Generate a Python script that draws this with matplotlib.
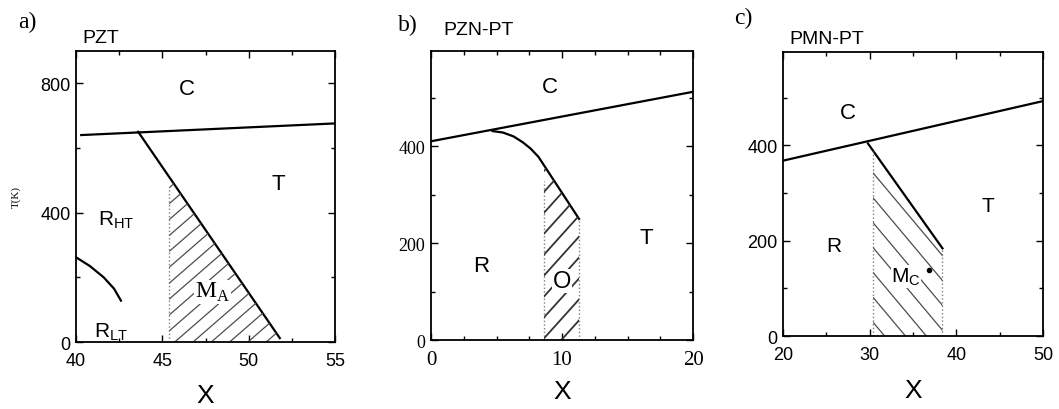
import numpy as np
import matplotlib
matplotlib.use("Agg")
import matplotlib.pyplot as plt
from matplotlib.patches import Polygon
from matplotlib.ticker import MultipleLocator

# --- PZT ---
pzt_ct_x = [40.3, 55.0]
pzt_ct_y = [640, 676]
pzt_rt_x = [43.6, 51.8]
pzt_rt_y = [650, 12]
pzt_rr_x = [40.0, 40.8, 41.6, 42.2, 42.6]
pzt_rr_y = [262, 235, 200, 165, 128]
pzt_ma_left = 45.4
pzt_ma_top = 480

# --- PZN-PT ---
pzn_ct_x = [0.0, 20.0]
pzn_ct_y = [410, 512]
pzn_ro_x = [4.7, 5.5, 6.3, 7.0, 7.6, 8.2, 11.3]
pzn_ro_y = [431, 428, 420, 408, 395, 378, 250]
pzn_o_left, pzn_o_right = 8.63, 11.3
pzn_o_top = 328

# --- PMN-PT ---
pmn_ct_x = [20.0, 50.0]
pmn_ct_y = [368, 493]
pmn_rt_x = [29.8, 38.4]
pmn_rt_y = [404, 184]
pmn_mc_left, pmn_mc_right = 30.4, 38.4
pmn_mc_top = 389
pmn_dot = (36.8, 138)

SANS = "Liberation Sans"
SERIF = "Liberation Serif"

fig = plt.figure(figsize=(10.59, 4.10), dpi=100)
ax_a = fig.add_axes([0.0718, 0.1634, 0.2446, 0.7098])
ax_b = fig.add_axes([0.4070, 0.1680, 0.2474, 0.7050])
ax_c = fig.add_axes([0.7394, 0.1780, 0.2455, 0.6927])


def style_axes(ax, xlim, ylim, xmaj, xmin, ymaj, ymin, family,
               xsize=13, ysize=13, xlabelpad=2):
    ax.set_xlim(*xlim)
    ax.set_ylim(*ylim)
    ax.xaxis.set_major_locator(MultipleLocator(xmaj))
    ax.xaxis.set_minor_locator(MultipleLocator(xmin))
    ax.yaxis.set_major_locator(MultipleLocator(ymaj))
    ax.yaxis.set_minor_locator(MultipleLocator(ymin))
    ax.tick_params(which="both", direction="in", top=True, right=True, width=1.0)
    ax.tick_params(which="major", length=5)
    ax.tick_params(axis="x", which="major", labelsize=xsize, pad=7)
    ax.tick_params(axis="y", which="major", labelsize=ysize, pad=4)
    ax.tick_params(which="minor", length=3)
    for lab in ax.get_xticklabels() + ax.get_yticklabels():
        lab.set_family(family)
    for s in ax.spines.values():
        s.set_linewidth(1.3)
    ax.set_xlabel("X", fontsize=19, family=SANS, labelpad=xlabelpad)


def hatch(ax, verts, angle, spacing, lw=0.9, color="0.25", ls="-"):
    # parallel lines at a fixed screen angle, clipped to the region outline
    patch = Polygon(verts, closed=True, fill=False, edgecolor="none")
    ax.add_patch(patch)
    bb = ax.get_window_extent()
    w, h = bb.width, bb.height
    d = np.array([np.cos(np.radians(angle)), np.sin(np.radians(angle))])
    n = np.array([-d[1], d[0]])
    diag = np.hypot(w, h)
    c = np.array([w / 2, h / 2])
    for off in np.arange(-diag, diag, spacing):
        p0 = c + n * off - d * diag
        p1 = c + n * off + d * diag
        ln, = ax.plot([p0[0] / w, p1[0] / w], [p0[1] / h, p1[1] / h],
                      transform=ax.transAxes, color=color, lw=lw, ls=ls)
        ln.set_clip_path(patch)


# panel a: PZT
style_axes(ax_a, (40, 55), (0, 900), 5, 2.5, 400, 200, SANS, xlabelpad=10)
ax_a.plot(pzt_ct_x, pzt_ct_y, color="k", lw=1.6)
ax_a.plot(pzt_rt_x, pzt_rt_y, color="k", lw=1.6)
ax_a.plot(pzt_rr_x, pzt_rr_y, color="k", lw=1.6)
ax_a.plot([pzt_ma_left, pzt_ma_left], [0, pzt_ma_top], ls=":", color="0.5", lw=1.0)
slope_a = (pzt_rt_y[1] - pzt_rt_y[0]) / (pzt_rt_x[1] - pzt_rt_x[0])
top_a = pzt_rt_y[0] + slope_a * (pzt_ma_left - pzt_rt_x[0])
foot_a = pzt_rt_x[1] - pzt_rt_y[1] / slope_a
hatch(ax_a, [(pzt_ma_left, 0), (pzt_ma_left, top_a), (pzt_rt_x[1], pzt_rt_y[1]), (foot_a, 0)],
      41, 12, color="0.3")
ax_a.text(46.4, 784, "C", fontsize=16, family=SANS, ha="center", va="center")
ax_a.text(51.7, 490, "T", fontsize=16, family=SANS, ha="center", va="center")
ax_a.text(42.3, 381, r"R$_{\mathregular{HT}}$", fontsize=15, family=SANS, ha="center", va="center")
ax_a.text(42.0, 34, r"R$_{\mathregular{LT}}$", fontsize=15, family=SANS, ha="center", va="center")
ax_a.text(47.9, 155, r"M$_{\mathregular{A}}$", fontsize=17, family=SERIF, ha="center", va="center",
          bbox=dict(facecolor="white", edgecolor="none", pad=0.5))
ax_a.set_ylabel("T(K)", fontsize=8, family=SERIF, labelpad=14)
ax_a.text(-0.224, 1.10, "a)", transform=ax_a.transAxes, fontsize=17, family=SERIF, va="center")
ax_a.text(0.023, 1.048, "PZT", transform=ax_a.transAxes, fontsize=14, family=SANS, va="center")

# panel b: PZN-PT
style_axes(ax_b, (0, 20), (0, 596), 10, 2.5, 200, 100, SERIF, xsize=15, ysize=13,
           xlabelpad=7)
ax_b.plot(pzn_ct_x, pzn_ct_y, color="k", lw=1.6)
ax_b.plot(pzn_ro_x, pzn_ro_y, color="k", lw=1.6)
ax_b.plot([pzn_o_left, pzn_o_left], [0, pzn_o_top], ls=":", color="0.5", lw=1.0)
ax_b.plot([pzn_o_right, pzn_o_right], [0, pzn_ro_y[-1]], ls=":", color="0.5", lw=1.0)
top_b = np.interp(pzn_o_left, pzn_ro_x, pzn_ro_y)
verts_b = [(pzn_o_left, 0), (pzn_o_left, top_b)]
verts_b += [(x, y) for x, y in zip(pzn_ro_x, pzn_ro_y) if x > pzn_o_left]
verts_b += [(pzn_o_right, 0)]
hatch(ax_b, verts_b, 48, 14, lw=1.3, color="0.2")
ax_b.text(9.1, 522, "C", fontsize=16, family=SANS, ha="center", va="center")
ax_b.text(16.4, 212, "T", fontsize=16, family=SANS, ha="center", va="center")
ax_b.text(3.8, 153, "R", fontsize=16, family=SANS, ha="center", va="center")
ax_b.text(10.0, 122, "O", fontsize=17, family=SANS, ha="center", va="center",
          bbox=dict(facecolor="white", edgecolor="none", pad=0.5))
ax_b.text(-0.126, 1.093, "b)", transform=ax_b.transAxes, fontsize=17, family=SERIF, va="center")
ax_b.text(0.046, 1.076, "PZN-PT", transform=ax_b.transAxes, fontsize=14, family=SANS, va="center")

# panel c: PMN-PT
style_axes(ax_c, (20, 50), (0, 596), 10, 5, 200, 100, SANS, xlabelpad=11)
ax_c.plot(pmn_ct_x, pmn_ct_y, color="k", lw=1.6)
ax_c.plot(pmn_rt_x, pmn_rt_y, color="k", lw=1.6)
ax_c.plot([pmn_mc_left, pmn_mc_left], [0, pmn_mc_top], ls=":", color="0.5", lw=1.0)
ax_c.plot([pmn_mc_right, pmn_mc_right], [0, pmn_rt_y[-1]], ls=":", color="0.5", lw=1.0)
hatch(ax_c, [(pmn_mc_left, 0), (pmn_mc_left, pmn_mc_top), (pmn_rt_x[1], pmn_rt_y[1]),
             (pmn_mc_right, 0)], -50, 16, lw=0.9, color="0.3")
ax_c.plot(*pmn_dot, "o", color="k", ms=3)
ax_c.text(27.5, 470, "C", fontsize=16, family=SANS, ha="center", va="center")
ax_c.text(43.6, 273, "T", fontsize=15, family=SANS, ha="center", va="center")
ax_c.text(25.9, 190, "R", fontsize=15, family=SANS, ha="center", va="center")
ax_c.text(34.2, 125, r"M$_{\mathregular{C}}$", fontsize=15, family=SANS, ha="center", va="center",
          bbox=dict(facecolor="white", edgecolor="none", pad=0.3))
ax_c.text(-0.19, 1.12, "c)", transform=ax_c.transAxes, fontsize=17, family=SERIF, va="center")
ax_c.text(0.023, 1.046, "PMN-PT", transform=ax_c.transAxes, fontsize=14, family=SANS, va="center")

fig.savefig("out.png", dpi=100)
